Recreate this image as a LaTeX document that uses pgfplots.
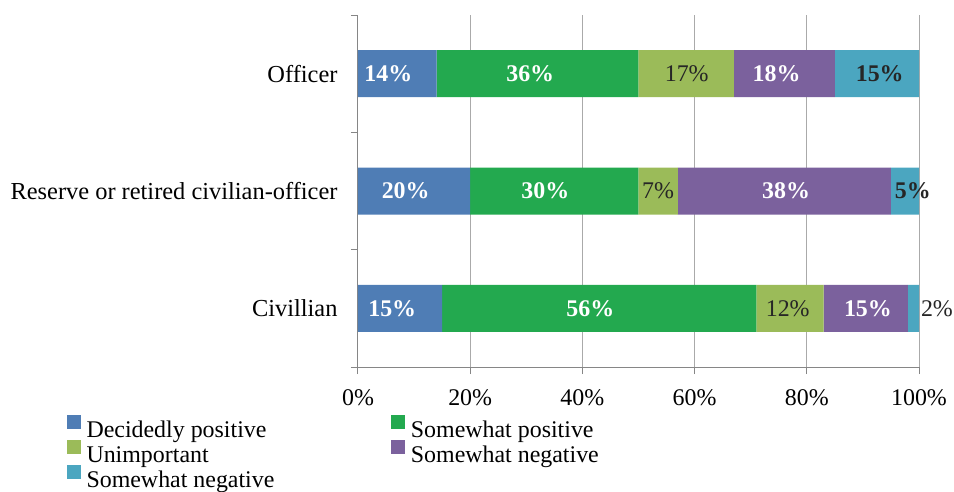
\documentclass[border=0pt]{standalone}
\usepackage{fontspec}
\setmainfont{Liberation Serif}
\usepackage{pgfplots}
\pgfplotsset{compat=1.18}

\definecolor{cBlue}{HTML}{4F7DB5}
\definecolor{cGreen}{HTML}{23A94F}
\definecolor{cOlive}{HTML}{9BBB59}
\definecolor{cPurple}{HTML}{7B619D}
\definecolor{cTeal}{HTML}{4BA6C0}
\definecolor{axisgray}{HTML}{868686}
\definecolor{lbl}{HTML}{262626}
\newcommand{\chartfont}{\fontsize{24}{25}\selectfont}
\tikzset{
  wlab/.style={font=\chartfont\bfseries, text=white},
  dlab/.style={font=\chartfont\bfseries, text=lbl},
  nlab/.style={font=\chartfont, text=lbl},
}

\begin{document}
\begin{tikzpicture}
\begin{axis}[
  scale only axis, width=561bp, height=352bp,
  xbar stacked, bar width=47bp,
  xmin=0, xmax=100, ymin=-0.5, ymax=2.5,
  clip=false,
  axis lines*=left,
  axis line style={axisgray, line width=1bp},
  tick align=outside,
  major tick length=7bp,
  tick style={axisgray, line width=1bp},
  tick label style={font=\chartfont},
  xtick={0,20,40,60,80,100},
  xticklabels={0\%,20\%,40\%,60\%,80\%,100\%},
  xticklabel style={yshift=-12bp},
  xmajorgrids, grid style={axisgray!70, line width=1bp},
  ytick={-0.5,0.5,1.5,2.5}, yticklabels={,,,},
  extra y ticks={0,1,2},
  extra y tick labels={Civillian,Reserve or retired civilian-officer,Officer},
  extra y tick style={major tick length=0pt,
    yticklabel style={xshift=-17bp, font=\fontsize{24.5}{26}\selectfont}},
  legend columns=2,
  legend cell align=left,
  legend style={at={(-0.519,-0.137)}, anchor=north west, draw=none, fill=none,
    inner sep=0pt, font=\chartfont, row sep=-0.5bp,
    /tikz/every odd column/.append style={column sep=4bp},
    /tikz/every even column/.append style={column sep=115bp}},
  legend image code/.code={\fill[#1] (0bp,1bp) rectangle (13.5bp,14.5bp);},
]
% y = 0 Civillian, 1 Reserve or retired, 2 Officer
\addplot[fill=cBlue, draw=none] coordinates {(15,0) (20,1) (14,2)};
\addplot[fill=cGreen, draw=none] coordinates {(56,0) (30,1) (36,2)};
\addplot[fill=cOlive, draw=none] coordinates {(12,0) (7,1) (17,2)};
\addplot[fill=cPurple, draw=none] coordinates {(15,0) (38,1) (18,2)};
\addplot[fill=cTeal, draw=none] coordinates {(2,0) (5,1) (15,2)};
\legend{Decidedly positive, Somewhat positive, Unimportant, Somewhat negative, Somewhat negative}

% anchors for the segment labels
\coordinate (o1) at (axis cs:5.4,2);
\coordinate (o2) at (axis cs:30.7,2);
\coordinate (o3) at (axis cs:58.6,2);
\coordinate (o4) at (axis cs:74.6,2);
\coordinate (o5) at (axis cs:93.0,2);
\coordinate (r1) at (axis cs:8.5,1);
\coordinate (r2) at (axis cs:33.4,1);
\coordinate (r3) at (axis cs:53.5,1);
\coordinate (r4) at (axis cs:76.3,1);
\coordinate (r5) at (axis cs:98.9,1);
\coordinate (c1) at (axis cs:6.1,0);
\coordinate (c2) at (axis cs:41.4,0);
\coordinate (c3) at (axis cs:76.6,0);
\coordinate (c4) at (axis cs:90.9,0);
\coordinate (c5) at (axis cs:103.2,0);

\coordinate (bl) at (rel axis cs:0,0);
\coordinate (tr) at (rel axis cs:1,1);
\end{axis}

\node[wlab] at (o1) {14\%};
\node[wlab] at (o2) {36\%};
\node[nlab] at (o3) {17\%};
\node[wlab] at (o4) {18\%};
\node[dlab] at (o5) {15\%};
\node[wlab] at (r1) {20\%};
\node[wlab] at (r2) {30\%};
\node[nlab] at (r3) {7\%};
\node[wlab] at (r4) {38\%};
\node[dlab] at (r5) {5\%};
\node[wlab] at (c1) {15\%};
\node[wlab] at (c2) {56\%};
\node[nlab] at (c3) {12\%};
\node[wlab] at (c4) {15\%};
\node[nlab] at (c5) {2\%};

\pgfresetboundingbox
\path[use as bounding box] ([xshift=-358bp,yshift=-125bp]bl) rectangle ([xshift=35bp,yshift=15bp]tr);
\end{tikzpicture}
\end{document}
